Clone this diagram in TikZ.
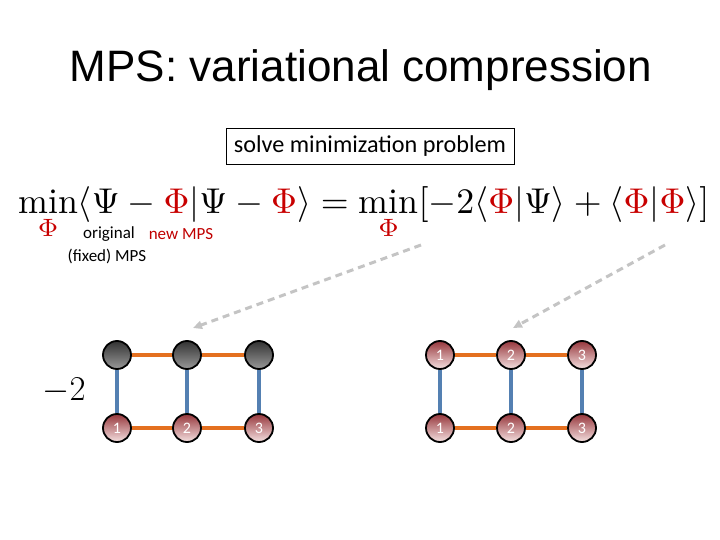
\documentclass[tikz,border=0pt]{standalone}
\usepackage{amsmath, amssymb}
\usepackage{xcolor}
\usepackage{graphicx}
\usepackage{fontspec}
\newfontfamily\titlefont{Liberation Sans}
\newfontfamily\calfont{Carlito}
\usepackage{tikz}
\usetikzlibrary{arrows.meta, positioning, calc}

\definecolor{phired}{RGB}{200,0,0}
\definecolor{notered}{RGB}{192,0,0}
\definecolor{bondorange}{RGB}{228,112,32}
\definecolor{legblue}{RGB}{84,128,178}
\definecolor{arrowgray}{RGB}{196,196,196}

\newcommand{\redphi}{{\color{phired}\Phi}}

\begin{document}
\begin{tikzpicture}[x=1pt, y=-1pt, >={Triangle[length=9pt,width=8pt]}]
        \tikzstyle{ball} = [circle, draw=black, line width=1.8pt, minimum size=28pt, inner sep=0pt, text=white, font=\calfont\fontsize{16}{16}\selectfont]
        \tikzstyle{fixedball} = [ball, top color=black!80, bottom color=black!40]
        \tikzstyle{newball} = [ball, top color={rgb,255:red,150;green,55;blue,60}, bottom color={rgb,255:red,245;green,225;blue,225}]
        \tikzstyle{bond} = [draw=bondorange, line width=3.2pt]
        \tikzstyle{leg} = [draw=legblue, line width=3.2pt]
        \tikzstyle{hint} = [draw=arrowgray, line width=3pt, dash pattern=on 7pt off 5pt, ->]
        \tikzstyle{note} = [font=\calfont\fontsize{17}{17}\selectfont, inner sep=0pt]

        \useasboundingbox (0,0) rectangle (720,540);

        % --- titel en opgave ---
        \node (title) at (361,70) {\titlefont\fontsize{44}{44}\selectfont MPS: variational compression};
        \node [draw, line width=0.8pt, minimum width=288pt, minimum height=36pt, font=\calfont\fontsize{24.2}{24.2}\selectfont] (task) at (370,146) {solve minimization problem};

        % --- formule ---
        \node [anchor=north west, inner sep=0pt] (formula) at (18,186) {\resizebox{691pt}{!}{$\displaystyle
            \min_{\redphi}\langle\Psi-\redphi|\Psi-\redphi\rangle
            =\min_{\redphi}[-2\langle\redphi|\Psi\rangle+\langle\redphi|\redphi\rangle]$}};
        \node [note] (orig) at (109,234) {original};
        \node [note, text=notered] (newmps) at (181,234) {new MPS};
        \node [note] (fixed) at (107,256) {(fixed) MPS};

        % --- linker netwerk: -2 <Phi|Psi> ---
        \node (minus2) at (64,391) {\scalebox{1.4}{\fontsize{24}{24}\selectfont$-2$}};
        \node [fixedball] (p1) at (117,355) {};
        \node [fixedball] (p2) at (187,355) {};
        \node [fixedball] (p3) at (259,355) {};
        \node [newball] (a1) at (117,428) {1};
        \node [newball] (a2) at (187,428) {2};
        \node [newball] (a3) at (259,428) {3};

        % --- rechter netwerk: <Phi|Phi> ---
        \node [newball] (b1) at (440,355) {1};
        \node [newball] (b2) at (511,355) {2};
        \node [newball] (b3) at (582,355) {3};
        \node [newball] (c1) at (440,428) {1};
        \node [newball] (c2) at (511,428) {2};
        \node [newball] (c3) at (582,428) {3};

        % --- verbindingen ---
        \foreach \u/\v in {p1/p2, p2/p3, a1/a2, a2/a3, b1/b2, b2/b3, c1/c2, c2/c3}
            \draw [bond] (\u) -- (\v);
        \foreach \u/\v in {p1/a1, p2/a2, p3/a3, b1/c1, b2/c2, b3/c3}
            \draw [leg] (\u) -- (\v);

        % --- pijlen van formule naar netwerk ---
        \coordinate (from1) at (421,245);
        \coordinate (from2) at (665,245);
        \coordinate (to1) at (193,328);
        \coordinate (to2) at (513,328);
        \draw [hint] (from1) -- (to1);
        \draw [hint] (from2) -- (to2);

    \end{tikzpicture}
\end{document}
